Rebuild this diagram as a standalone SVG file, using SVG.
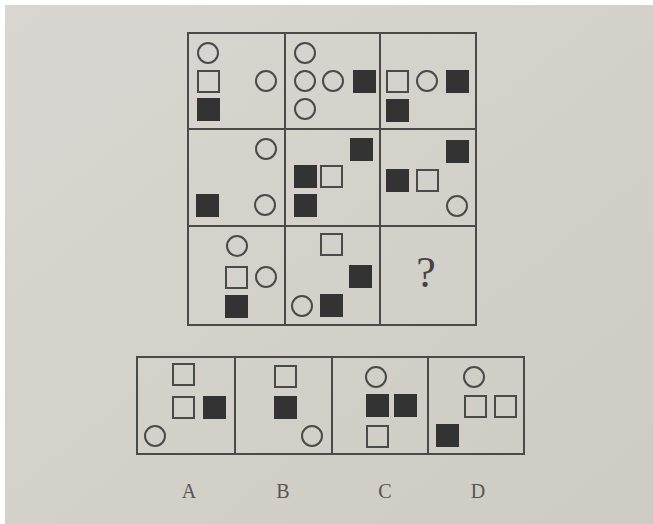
<svg xmlns="http://www.w3.org/2000/svg" width="653" height="524" viewBox="0 0 653 524">
<defs>
<linearGradient id="bg" x1="0" y1="0" x2="1" y2="1">
<stop offset="0" stop-color="#dad7d2"/>
<stop offset="1" stop-color="#cdcbc3"/>
</linearGradient>
<style>
.line{fill:none;stroke:#4a4a4a;stroke-width:2}
.cir{fill:none;stroke:#4a4a4a;stroke-width:2}
.osq{fill:none;stroke:#4a4a4a;stroke-width:2}
.fsq{fill:#333}
.q{font-family:"Liberation Serif",serif;font-size:44px;fill:#444;text-anchor:middle}
.lab{font-family:"Liberation Serif",serif;font-size:20px;fill:#555;text-anchor:middle}
</style>
</defs>
<rect width="653" height="524" fill="#ffffff"/>
<rect x="5" y="5" width="648" height="519" fill="url(#bg)"/>

<g id="grid">
<rect class="line" x="188" y="33" width="288" height="292"/>
<line class="line" x1="285" y1="33" x2="285" y2="325"/>
<line class="line" x1="380" y1="33" x2="380" y2="325"/>
<line class="line" x1="188" y1="129" x2="476" y2="129"/>
<line class="line" x1="188" y1="226" x2="476" y2="226"/>
</g>

<g id="cell-1-1">
<circle class="cir" cx="208" cy="53" r="10"/>
<rect class="osq" x="198" y="71" width="21" height="21"/>
<rect class="fsq" x="197" y="98" width="23" height="23"/>
<circle class="cir" cx="266" cy="81" r="10"/>
</g>
<g id="cell-1-2">
<circle class="cir" cx="305" cy="53" r="10"/>
<circle class="cir" cx="305" cy="81" r="10"/>
<circle class="cir" cx="305" cy="109" r="10"/>
<circle class="cir" cx="333" cy="81" r="10"/>
<rect class="fsq" x="353" y="70" width="23" height="23"/>
</g>
<g id="cell-1-3">
<rect class="osq" x="387" y="71" width="21" height="21"/>
<circle class="cir" cx="427" cy="81" r="10"/>
<rect class="fsq" x="446" y="70" width="23" height="23"/>
<rect class="fsq" x="386" y="99" width="23" height="23"/>
</g>

<g id="cell-2-1">
<circle class="cir" cx="266" cy="149" r="10"/>
<rect class="fsq" x="196" y="194" width="23" height="23"/>
<circle class="cir" cx="265" cy="205" r="10"/>
</g>
<g id="cell-2-2">
<rect class="fsq" x="350" y="138" width="23" height="23"/>
<rect class="fsq" x="294" y="165" width="23" height="23"/>
<rect class="osq" x="321" y="166" width="21" height="21"/>
<rect class="fsq" x="294" y="194" width="23" height="23"/>
</g>
<g id="cell-2-3">
<rect class="fsq" x="446" y="140" width="23" height="23"/>
<rect class="fsq" x="386" y="169" width="23" height="23"/>
<rect class="osq" x="417" y="170" width="21" height="21"/>
<circle class="cir" cx="457" cy="206" r="10"/>
</g>

<g id="cell-3-1">
<circle class="cir" cx="237" cy="246" r="10"/>
<rect class="osq" x="226" y="267" width="21" height="21"/>
<circle class="cir" cx="266" cy="277" r="10"/>
<rect class="fsq" x="225" y="295" width="23" height="23"/>
</g>
<g id="cell-3-2">
<rect class="osq" x="321" y="234" width="21" height="21"/>
<rect class="fsq" x="349" y="265" width="23" height="23"/>
<circle class="cir" cx="302" cy="306" r="10"/>
<rect class="fsq" x="320" y="294" width="23" height="23"/>
</g>
<g id="cell-3-3">
<text class="q" x="426" y="287">?</text>
</g>

<g id="options-frame">
<rect class="line" x="137" y="357" width="387" height="97"/>
<line class="line" x1="235" y1="357" x2="235" y2="454"/>
<line class="line" x1="332" y1="357" x2="332" y2="454"/>
<line class="line" x1="428" y1="357" x2="428" y2="454"/>
</g>

<g id="option-A">
<rect class="osq" x="173" y="364" width="21" height="21"/>
<rect class="osq" x="173" y="397" width="21" height="21"/>
<rect class="fsq" x="203" y="396" width="23" height="23"/>
<circle class="cir" cx="155" cy="436" r="10"/>
<text class="lab" x="189" y="498">A</text>
</g>
<g id="option-B">
<rect class="osq" x="275" y="366" width="21" height="21"/>
<rect class="fsq" x="274" y="396" width="23" height="23"/>
<circle class="cir" cx="312" cy="436" r="10"/>
<text class="lab" x="283" y="498">B</text>
</g>
<g id="option-C">
<circle class="cir" cx="376" cy="377" r="10"/>
<rect class="fsq" x="366" y="394" width="23" height="23"/>
<rect class="fsq" x="394" y="394" width="23" height="23"/>
<rect class="osq" x="367" y="426" width="21" height="21"/>
<text class="lab" x="385" y="498">C</text>
</g>
<g id="option-D">
<circle class="cir" cx="474" cy="377" r="10"/>
<rect class="osq" x="465" y="396" width="21" height="21"/>
<rect class="osq" x="495" y="396" width="21" height="21"/>
<rect class="fsq" x="436" y="424" width="23" height="23"/>
<text class="lab" x="478" y="498">D</text>
</g>

<g id="connectors"/>
</svg>
